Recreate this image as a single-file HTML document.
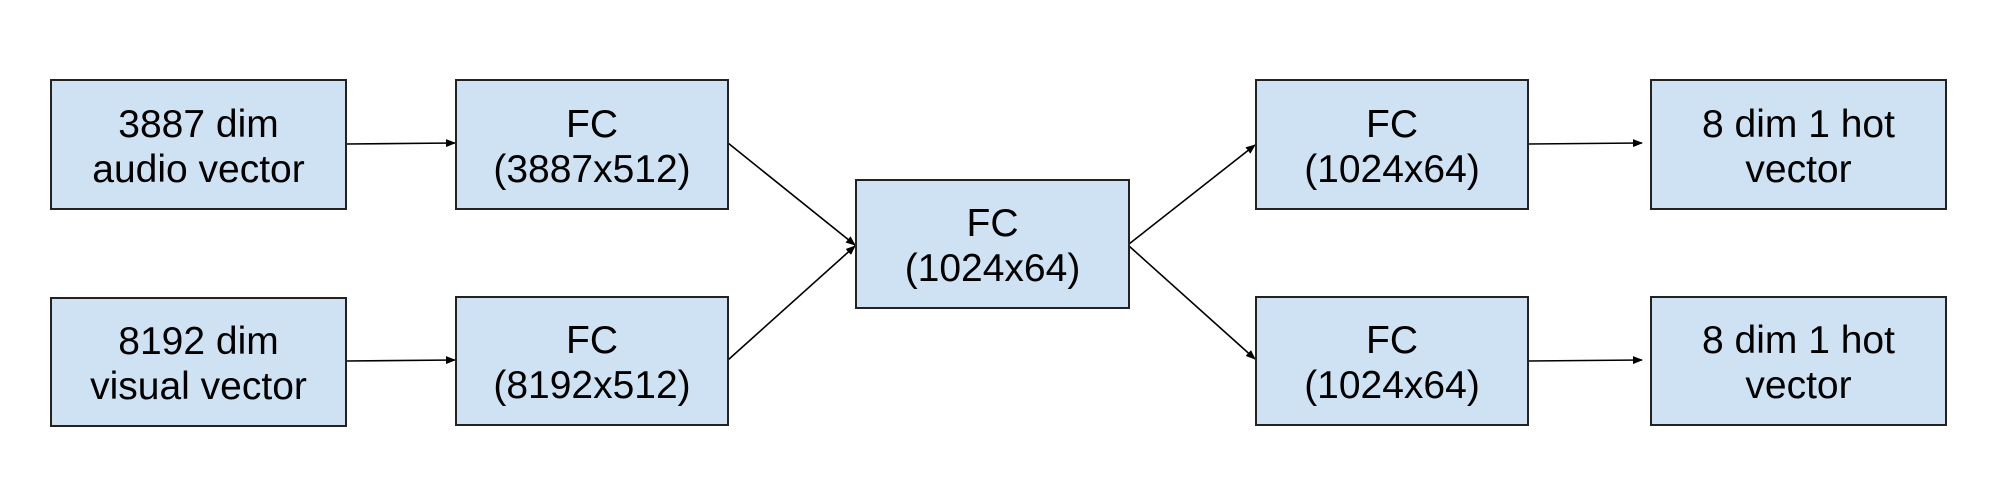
<!DOCTYPE html>
<html><head><meta charset="utf-8"><style>
body{margin:0;width:2000px;height:500px;background:#fff;position:relative;overflow:hidden;font-family:"Liberation Sans",Arial,sans-serif}
.b{position:absolute;background:#cfe2f3;border:2px solid #222;box-sizing:border-box;display:flex;flex-direction:column;justify-content:center;align-items:center;color:#000;padding-top:4px}
.b span{display:block;font-size:39px;line-height:45px;white-space:nowrap}
svg{position:absolute;left:0;top:0}
</style></head><body>
<svg width="2000" height="500">
<defs><marker id="a" markerWidth="10" markerHeight="8" refX="9" refY="4" orient="auto" markerUnits="userSpaceOnUse"><path d="M0,0 L10,4 L0,8 z" fill="#000"/></marker></defs>
<g stroke="#000" stroke-width="1.6" fill="none" marker-end="url(#a)">
<line x1="346" y1="144" x2="455" y2="143"/>
<line x1="346" y1="361" x2="455" y2="360"/>
<line x1="728" y1="143" x2="855" y2="245"/>
<line x1="728" y1="360" x2="855" y2="246"/>
<line x1="1129" y1="244" x2="1255" y2="145"/>
<line x1="1129" y1="246" x2="1255" y2="359"/>
<line x1="1528" y1="144" x2="1642" y2="143"/>
<line x1="1528" y1="361" x2="1642" y2="360"/>
</g></svg>
<div class="b" style="left:50px;top:79px;width:297px;height:131px"><span>3887 dim</span><span>audio vector</span></div>
<div class="b" style="left:50px;top:297px;width:297px;height:130px"><span>8192 dim</span><span>visual vector</span></div>
<div class="b" style="left:455px;top:79px;width:274px;height:131px"><span>FC</span><span>(3887x512)</span></div>
<div class="b" style="left:455px;top:296px;width:274px;height:130px"><span>FC</span><span>(8192x512)</span></div>
<div class="b" style="left:855px;top:179px;width:275px;height:130px"><span>FC</span><span>(1024x64)</span></div>
<div class="b" style="left:1255px;top:79px;width:274px;height:131px"><span>FC</span><span>(1024x64)</span></div>
<div class="b" style="left:1255px;top:296px;width:274px;height:130px"><span>FC</span><span>(1024x64)</span></div>
<div class="b" style="left:1650px;top:79px;width:297px;height:131px"><span>8 dim 1 hot</span><span>vector</span></div>
<div class="b" style="left:1650px;top:296px;width:297px;height:130px"><span>8 dim 1 hot</span><span>vector</span></div>
</body></html>
